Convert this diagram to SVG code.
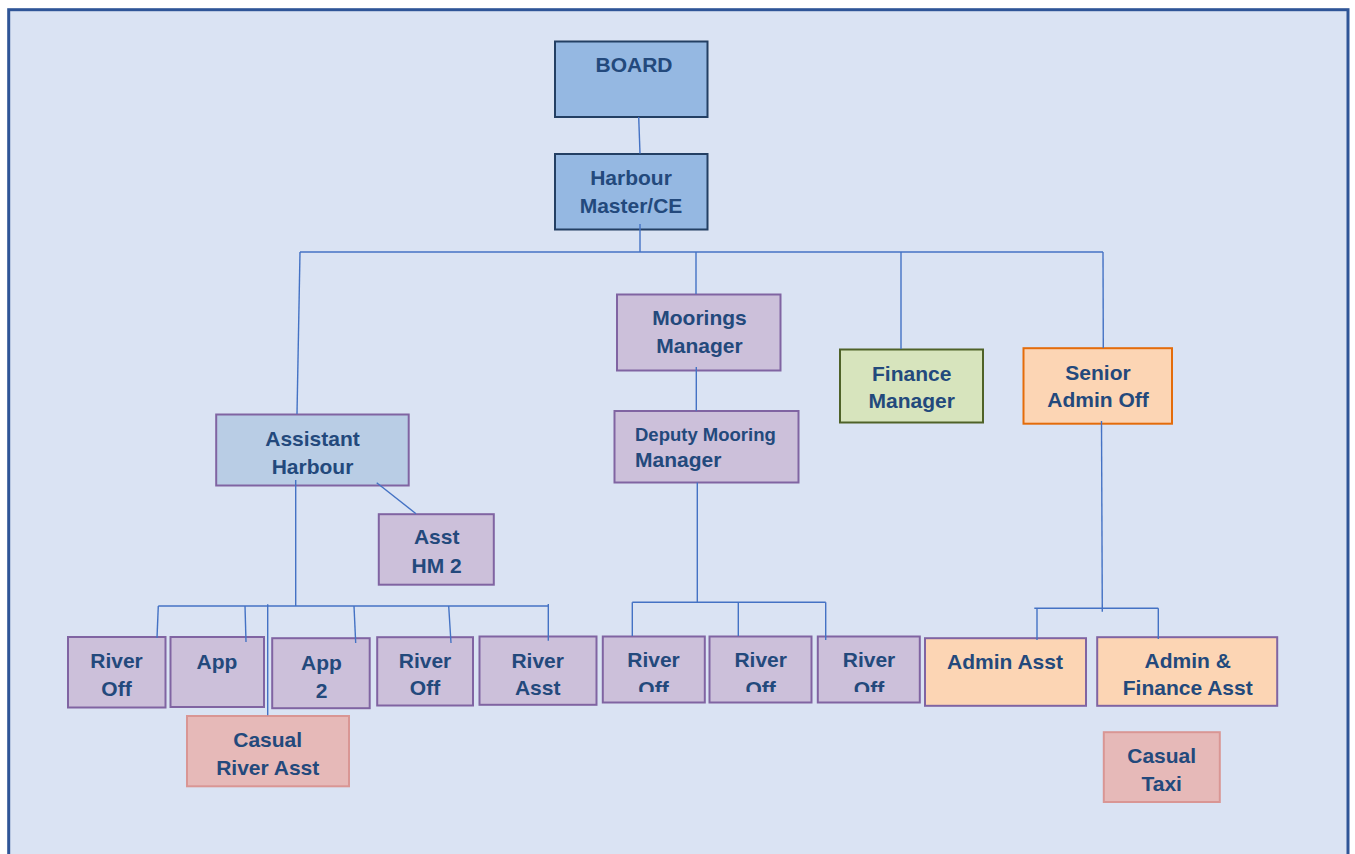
<svg xmlns="http://www.w3.org/2000/svg" width="1355" height="854" viewBox="0 0 1355 854">
<style>
text{font-family:"Liberation Sans",Arial,sans-serif;font-weight:bold;font-size:21px;fill:#23497c;text-anchor:middle}
.c{stroke:#4472c4;stroke-width:1.4;fill:none}
.blue{fill:#95b8e2;stroke:#233f63;stroke-width:2}
.ah{fill:#b9cde5;stroke:#8064a2;stroke-width:2}
.pur{fill:#ccc0da;stroke:#8064a2;stroke-width:2}
.cas{fill:#e6b9b8;stroke:#d99694;stroke-width:2}
.fin{fill:#d7e4bd;stroke:#4f6228;stroke-width:2}
.sen{fill:#fcd5b4;stroke:#e46c0a;stroke-width:2}
.adm{fill:#fcd5b4;stroke:#8064a2;stroke-width:2}
</style>
<defs>
<clipPath id="clipOff"><rect x="0" y="0" width="1355" height="692"/></clipPath>
</defs>
<rect x="0" y="0" width="1355" height="854" fill="#ffffff"/>
<rect x="8.7" y="9.7" width="1339.3" height="900" fill="#dae3f3" stroke="#2f5597" stroke-width="3"/>

<g id="board"><rect class="blue" x="555" y="41.5" width="152.5" height="75.5"/><text x="634" y="72">BOARD</text></g>
<g id="harbour-master"><rect class="blue" x="555" y="154" width="152.5" height="75.5"/><text x="631" y="185">Harbour</text><text x="631" y="213">Master/CE</text></g>
<g id="moorings-manager"><rect class="pur" x="617" y="294.5" width="163.5" height="76"/><text x="699.5" y="325">Moorings</text><text x="699.5" y="352.7">Manager</text></g>
<g id="deputy-mooring-manager"><rect class="pur" x="614.5" y="411" width="184" height="71.5"/><text x="635" y="440.7" style="text-anchor:start;font-size:18.5px">Deputy Mooring</text><text x="635" y="466.7" style="text-anchor:start">Manager</text></g>
<g id="finance-manager"><rect class="fin" x="840" y="349.5" width="143" height="73"/><text x="911.7" y="381">Finance</text><text x="911.7" y="408">Manager</text></g>
<g id="senior-admin-off"><rect class="sen" x="1023.5" y="348.2" width="148.5" height="75.5"/><text x="1098" y="380">Senior</text><text x="1098" y="407">Admin Off</text></g>
<g id="assistant-harbour"><rect class="ah" x="216.2" y="414.5" width="192.5" height="71"/><text x="312.5" y="446">Assistant</text><text x="312.5" y="473.5">Harbour</text></g>
<g id="asst-hm-2"><rect class="pur" x="378.8" y="514.2" width="115" height="70.5"/><text x="436.7" y="544.3">Asst</text><text x="436.7" y="572.7">HM 2</text></g>

<g id="river-off-1"><rect class="pur" x="68" y="637" width="97.5" height="70.5"/><text x="116.5" y="668">River</text><text x="116.5" y="695.7">Off</text></g>
<g id="app"><rect class="pur" x="170.5" y="637" width="93.5" height="70"/><text x="217" y="669">App</text></g>
<g id="app-2"><rect class="pur" x="272.2" y="638.2" width="97.5" height="70"/><text x="321.5" y="670">App</text><text x="321.5" y="697.7">2</text></g>
<g id="river-off-2"><rect class="pur" x="377.2" y="637.2" width="95.8" height="68.3"/><text x="425" y="668.3">River</text><text x="425" y="695">Off</text></g>
<g id="river-asst"><rect class="pur" x="479.5" y="636.5" width="117" height="68.3"/><text x="537.7" y="667.7">River</text><text x="537.7" y="695">Asst</text></g>
<g id="casual-river-asst"><rect class="cas" x="187" y="716" width="162" height="70.3"/><text x="267.7" y="746.7">Casual</text><text x="267.7" y="775">River Asst</text></g>

<g id="river-off-3"><rect class="pur" x="602.8" y="636.5" width="102" height="66"/><text x="653.5" y="667.3">River</text><text x="653.5" y="695.5" clip-path="url(#clipOff)">Off</text></g>
<g id="river-off-4"><rect class="pur" x="709.5" y="636.5" width="102" height="66"/><text x="760.7" y="667.3">River</text><text x="760.7" y="695.5" clip-path="url(#clipOff)">Off</text></g>
<g id="river-off-5"><rect class="pur" x="817.8" y="636.5" width="102" height="66"/><text x="869" y="667.3">River</text><text x="869" y="695.5" clip-path="url(#clipOff)">Off</text></g>

<g id="admin-asst"><rect class="adm" x="925" y="638.2" width="161" height="67.6"/><text x="1005" y="669">Admin Asst</text></g>
<g id="admin-finance-asst"><rect class="adm" x="1097.2" y="637.2" width="180" height="68.6"/><text x="1187.7" y="667.7">Admin &amp;</text><text x="1187.7" y="695">Finance Asst</text></g>
<g id="casual-taxi"><rect class="cas" x="1103.8" y="732.2" width="116" height="69.8"/><text x="1161.7" y="763.3">Casual</text><text x="1161.7" y="791">Taxi</text></g>

<g id="connectors">
<line class="c" x1="638.7" y1="117" x2="640" y2="153.5"/>
<line class="c" x1="640" y1="224" x2="640" y2="252"/>
<line class="c" x1="300" y1="252" x2="1103" y2="252"/>
<line class="c" x1="300" y1="252" x2="297" y2="414"/>
<line class="c" x1="696" y1="252" x2="696" y2="294"/>
<line class="c" x1="901" y1="252" x2="901" y2="349"/>
<line class="c" x1="1103" y1="252" x2="1103.3" y2="348"/>
<line class="c" x1="696.3" y1="367" x2="696.3" y2="410.7"/>
<line class="c" x1="697.3" y1="482.5" x2="697.3" y2="602"/>
<line class="c" x1="632.3" y1="602.3" x2="825.7" y2="602.3"/>
<line class="c" x1="632.3" y1="602.3" x2="632.3" y2="636"/>
<line class="c" x1="738.3" y1="602.3" x2="738.3" y2="636"/>
<line class="c" x1="825.7" y1="602.3" x2="825.7" y2="640"/>
<line class="c" x1="1101.5" y1="421" x2="1102.3" y2="611.7"/>
<line class="c" x1="1034.3" y1="608.3" x2="1158.3" y2="608.3"/>
<line class="c" x1="1037" y1="608.3" x2="1037" y2="640"/>
<line class="c" x1="1158.3" y1="608.3" x2="1158.3" y2="639"/>
<line class="c" x1="376.7" y1="482.7" x2="416" y2="513.7"/>
<line class="c" x1="295.7" y1="480" x2="295.7" y2="606"/>
<line class="c" x1="158.3" y1="606" x2="548.3" y2="606"/>
<line class="c" x1="158.3" y1="606" x2="157" y2="638"/>
<line class="c" x1="245" y1="606" x2="246" y2="642"/>
<line class="c" x1="267.7" y1="604.3" x2="267.7" y2="715.3"/>
<line class="c" x1="354" y1="606" x2="355.7" y2="643"/>
<line class="c" x1="448.7" y1="606" x2="451" y2="643"/>
<line class="c" x1="548.3" y1="604" x2="548.3" y2="640.7"/>
</g>
</svg>
